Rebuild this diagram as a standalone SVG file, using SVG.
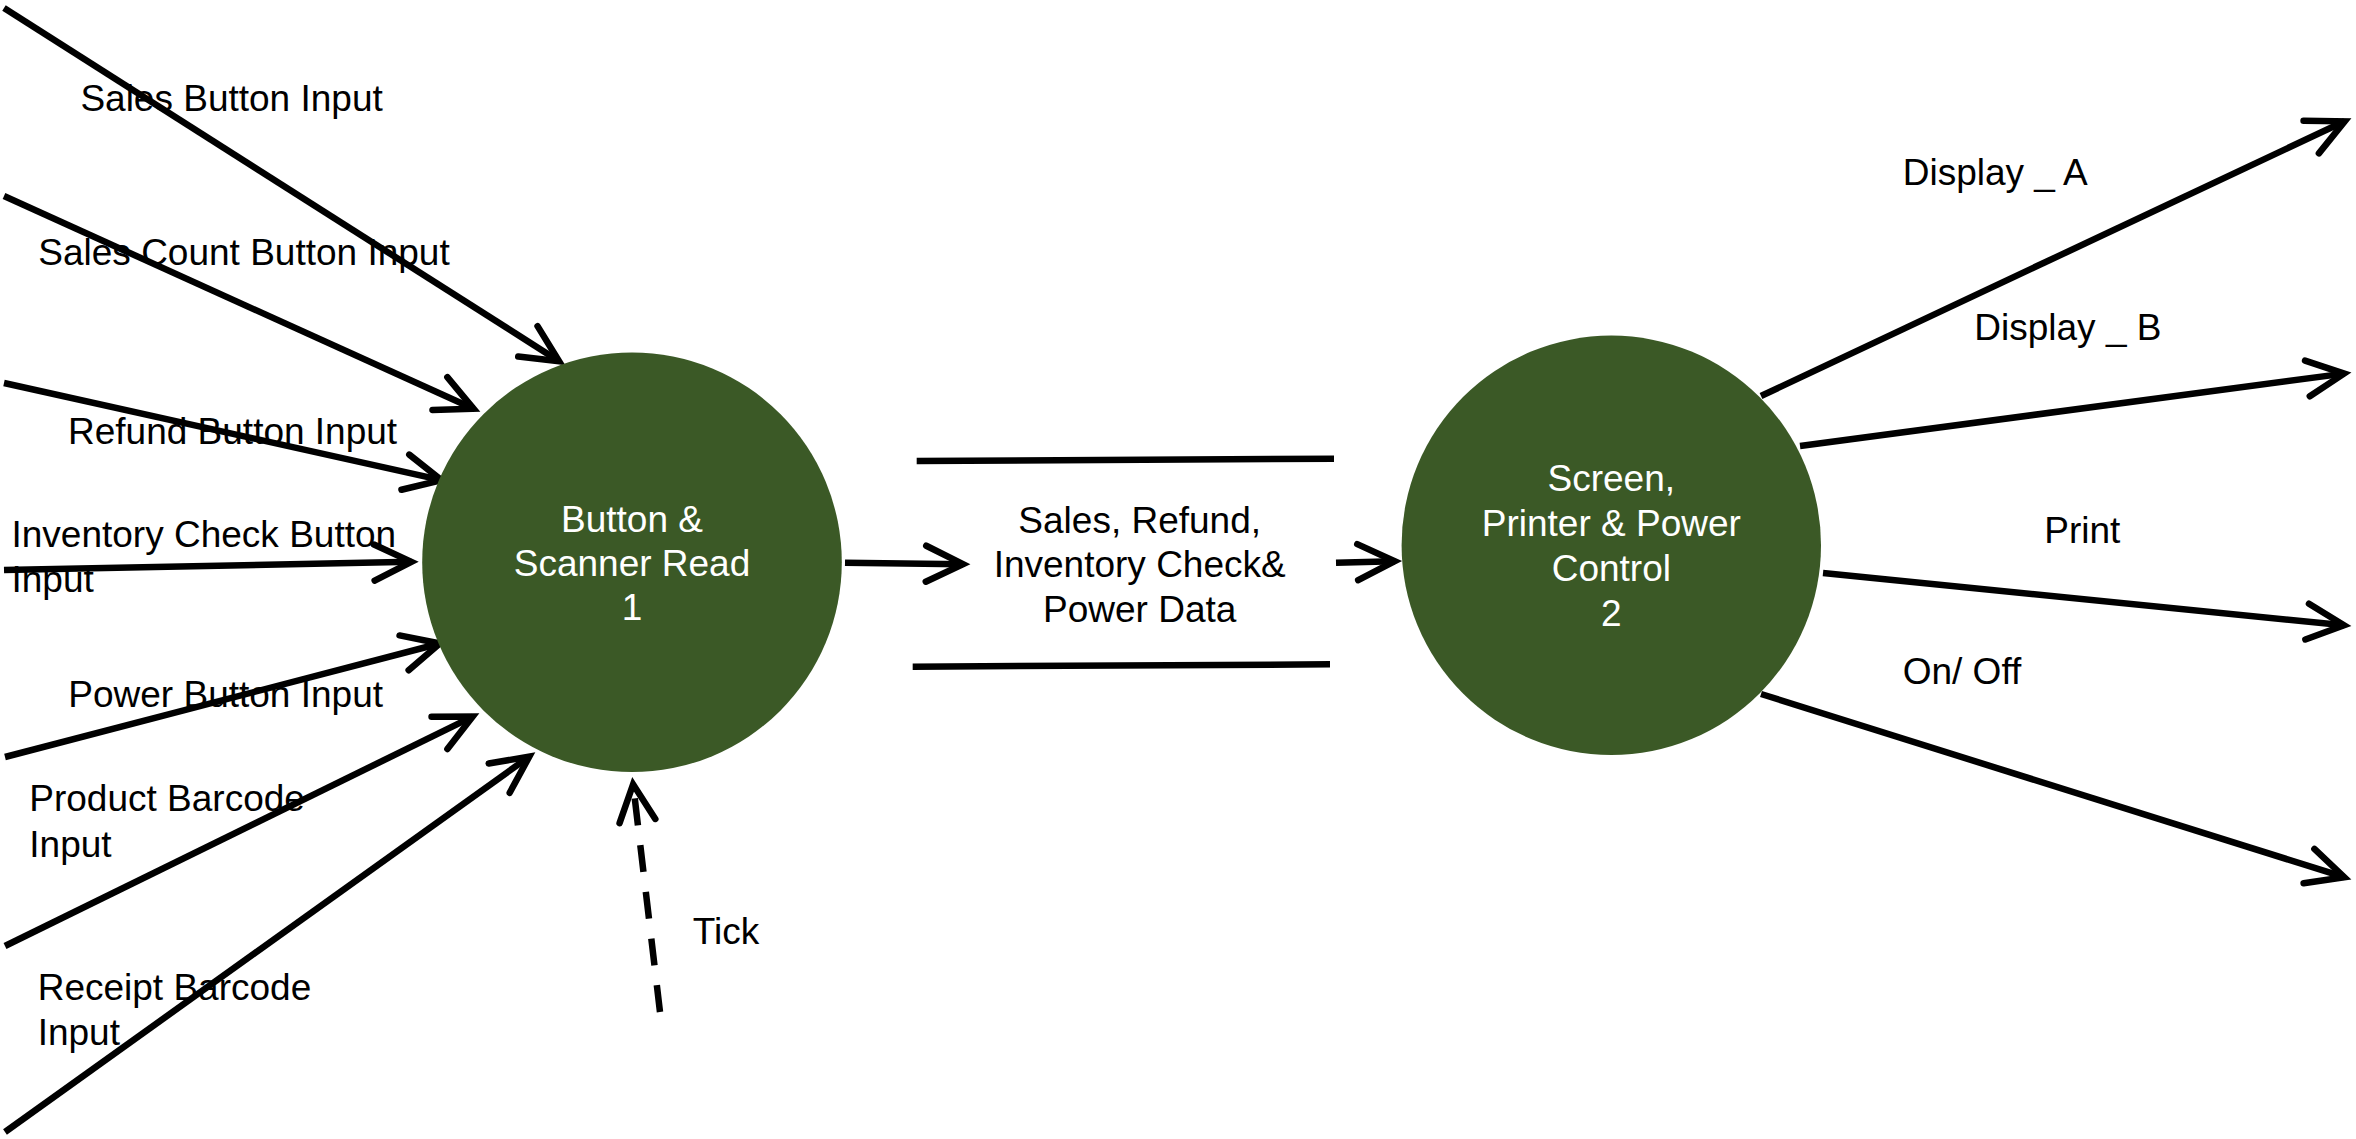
<svg xmlns="http://www.w3.org/2000/svg" width="2356" height="1139" viewBox="0 0 2356 1139">
  <style>
    text { font-family: "Liberation Sans", Arial, sans-serif; font-size: 37px; fill: #000000; }
    .proc { fill: #3B5926; }
    .proc-label { fill: #FFFFFF; text-anchor: middle; }
    .store-label { text-anchor: middle; }
    .flow { stroke: #000000; stroke-width: 6.5; fill: none; marker-end: url(#open-arrow); }
    .dashed { stroke-dasharray: 27 20; }
    .store-edge { stroke: #000000; stroke-width: 6.5; fill: none; }
  </style>
  <defs>
    <marker id="open-arrow" markerUnits="userSpaceOnUse" markerWidth="60" markerHeight="60"
            viewBox="-45 -30 60 60" refX="0" refY="0" orient="auto" overflow="visible">
      <path d="M -37 -18 L 0 0 L -37 18" fill="none" stroke="#000000" stroke-width="6.5"
            stroke-linecap="round" stroke-linejoin="miter" stroke-miterlimit="10"/>
    </marker>
  </defs>

  <rect width="2356" height="1139" fill="#FFFFFF"/>

  <!-- data flows -->
  <g id="connectors">
    <line class="flow" x1="4" y1="8" x2="559.1" y2="361.2"/>
    <line class="flow" x1="4" y1="196" x2="473.6" y2="408.8"/>
    <line class="flow" x1="4" y1="383" x2="441.5" y2="480.2"/>
    <line class="flow" x1="4" y1="570" x2="411.3" y2="561.8"/>
    <line class="flow" x1="5" y1="757" x2="439.9" y2="643.5"/>
    <line class="flow" x1="5" y1="946" x2="472.7" y2="716.6"/>
    <line class="flow" x1="5" y1="1132" x2="529.3" y2="756.6"/>
    <line class="flow dashed" x1="660" y1="1012" x2="633.1" y2="784.3"/>
    <line class="flow" x1="845" y1="562.7" x2="963" y2="564.2"/>
    <line class="flow" x1="1336" y1="562.7" x2="1394.7" y2="561.2"/>
    <line class="flow" x1="1761" y1="396" x2="2344.7" y2="121.3"/>
    <line class="flow" x1="1800" y1="446" x2="2344.1" y2="373.6"/>
    <line class="flow" x1="1823" y1="573" x2="2344" y2="625.3"/>
    <line class="flow" x1="1761" y1="694" x2="2344.3" y2="877.2"/>
  </g>

  <!-- flow labels -->
  <g id="flow-labels">
    <text x="80.4" y="111">Sales Button Input</text>
    <text x="38.3" y="265">Sales Count Button Input</text>
    <text x="68" y="444">Refund Button Input</text>
    <text x="11.5" y="547">Inventory Check Button<tspan x="11.5" y="592">Input</tspan></text>
    <text x="68.3" y="707">Power Button Input</text>
    <text x="29.3" y="811">Product Barcode<tspan x="29.3" y="857">Input</tspan></text>
    <text x="37.7" y="1000">Receipt Barcode<tspan x="37.7" y="1045">Input</tspan></text>
    <text x="692.7" y="944">Tick</text>
    <text x="1902.7" y="185">Display _ A</text>
    <text x="1974.3" y="340">Display _ B</text>
    <text x="2044.3" y="543">Print</text>
    <text x="1902.7" y="684">On/ Off</text>
  </g>

  <!-- process 1 -->
  <g id="process-1">
    <circle class="proc" cx="632" cy="562.3" r="209.8"/>
    <text class="proc-label" x="632" y="531.7">Button &amp;</text>
    <text class="proc-label" x="632" y="576">Scanner Read</text>
    <text class="proc-label" x="632" y="620">1</text>
  </g>

  <!-- data store -->
  <g id="data-store">
    <line class="store-edge" x1="916.7" y1="461" x2="1334" y2="458.7"/>
    <line class="store-edge" x1="912.7" y1="666.7" x2="1330" y2="664.3"/>
    <text class="store-label" x="1139.7" y="533.3">Sales, Refund,</text>
    <text class="store-label" x="1139.7" y="577">Inventory Check&amp;</text>
    <text class="store-label" x="1139.7" y="621.7">Power Data</text>
  </g>

  <!-- process 2 -->
  <g id="process-2">
    <circle class="proc" cx="1611.3" cy="545.3" r="209.7"/>
    <text class="proc-label" x="1611.3" y="491">Screen,</text>
    <text class="proc-label" x="1611.3" y="536">Printer &amp; Power</text>
    <text class="proc-label" x="1611.3" y="581">Control</text>
    <text class="proc-label" x="1611.3" y="626">2</text>
  </g>
</svg>
